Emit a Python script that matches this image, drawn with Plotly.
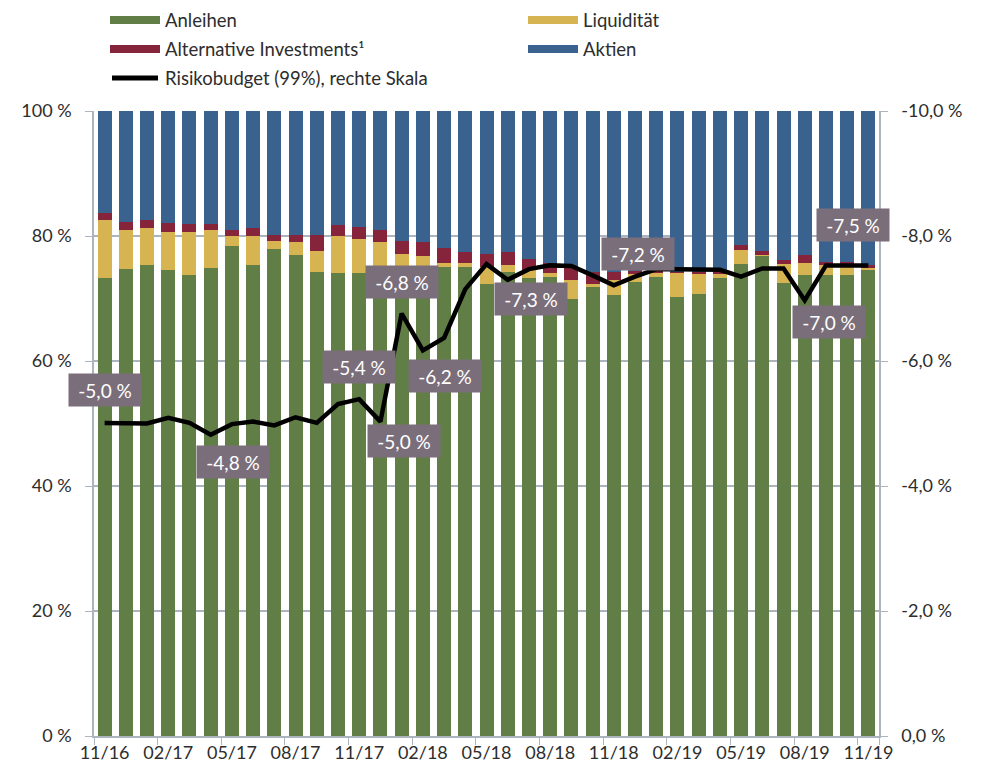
import plotly.graph_objects as go

# ---------------- data ----------------
months = ["11/16", "12/16", "01/17", "02/17", "03/17", "04/17", "05/17", "06/17", "07/17",
          "08/17", "09/17", "10/17", "11/17", "12/17", "01/18", "02/18", "03/18", "04/18",
          "05/18", "06/18", "07/18", "08/18", "09/18", "10/18", "11/18", "12/18", "01/19",
          "02/19", "03/19", "04/19", "05/19", "06/19", "07/19", "08/19", "09/19", "10/19", "11/19"]

anleihen = [73.3, 74.7, 75.3, 74.5, 73.7, 74.9, 78.4, 75.3, 78.0, 76.9, 74.3, 74.1, 74.1,
            74.0, 74.5, 74.5, 75.0, 75.0, 72.3, 74.3, 73.3, 73.5, 70.0, 71.8, 70.6, 72.6,
            73.5, 70.2, 70.8, 73.3, 75.5, 76.9, 72.5, 73.8, 73.7, 73.8, 74.5]
liquiditaet = [9.2, 6.2, 6.0, 6.2, 7.0, 6.0, 1.6, 4.7, 1.2, 2.1, 3.3, 5.9, 5.5,
               5.0, 2.7, 2.3, 0.7, 0.7, 2.8, 1.0, 1.3, 0.6, 3.0, 0.5, 2.3, 1.3,
               0.6, 3.9, 3.2, 0.7, 2.3, 0.1, 3.0, 1.9, 1.7, 1.7, 0.4]
alternative = [1.2, 1.4, 1.2, 1.4, 1.2, 1.0, 1.0, 1.3, 1.0, 1.2, 2.6, 1.7, 1.9,
               2.0, 2.0, 2.2, 2.4, 1.8, 2.0, 2.1, 1.7, 1.6, 2.0, 1.9, 1.3, 0.5,
               0.3, 0.2, 0.3, 0.2, 0.8, 0.6, 0.6, 1.3, 0.5, 0.3, 0.4]
aktien = [16.3, 17.7, 17.5, 17.9, 18.1, 18.1, 19.0, 18.7, 19.8, 19.8, 19.8, 18.3, 18.5,
          19.0, 20.8, 21.0, 21.9, 22.5, 22.9, 22.6, 23.7, 24.3, 25.0, 25.8, 25.8, 25.6,
          25.6, 25.7, 25.7, 25.8, 21.4, 22.4, 23.9, 23.0, 24.1, 24.2, 24.7]
risikobudget = [-5.01, -5.0, -5.0, -5.09, -5.01, -4.82, -4.99, -5.03, -4.97, -5.10, -5.01,
                -5.31, -5.39, -5.03, -6.76, -6.17, -6.37, -7.15, -7.55, -7.30, -7.47, -7.53,
                -7.52, -7.37, -7.21, -7.35, -7.47, -7.47, -7.47, -7.46, -7.35, -7.48, -7.48,
                -6.97, -7.53, -7.53, -7.53]

# value labels: (month index, text)
label_idx = [0, 5, 12, 13, 14, 15, 19, 24, 33, 35]
label_txt = ["-5,0 %", "-4,8 %", "-5,4 %", "-5,0 %", "-6,8 %", "-6,2 %", "-7,3 %", "-7,2 %", "-7,0 %", "-7,5 %"]

left_ticks = [0, 20, 40, 60, 80, 100]
left_ticktext = ["0 %", "20 %", "40 %", "60 %", "80 %", "100 %"]
right_ticks = [0, -2, -4, -6, -8, -10]
right_ticktext = ["0,0 %", "-2,0 %", "-4,0 %", "-6,0 %", "-8,0 %", "-10,0 %"]
x_ticks = months[::3]

# ---------------- style ----------------
C_GREEN = "rgb(98,126,71)"
C_YELLOW = "rgb(214,180,82)"
C_RED = "rgb(134,36,60)"
C_BLUE = "rgb(57,98,142)"
C_LABEL = "rgb(122,110,122)"
C_GRID = "rgb(172,180,190)"
C_TEXT = "rgb(45,45,45)"
FONT = "Lato, 'Open Sans', sans-serif"

OFF = 8  # page body margin
W, H = 985 - 2 * OFF, 773 - 2 * OFF
ML, MT = 94 - OFF, 111 - OFF
MR = W - (879 - OFF)
MB = H - (736 - OFF)
PW, PH = W - ML - MR, H - MT - MB

fig = go.Figure()
for name, vals, col in [("Anleihen", anleihen, C_GREEN),
                        ("Liquidität", liquiditaet, C_YELLOW),
                        ("Alternative Investments¹", alternative, C_RED),
                        ("Aktien", aktien, C_BLUE)]:
    fig.add_trace(go.Bar(x=months, y=vals, name=name, marker=dict(color=col, line=dict(width=0)),
                         showlegend=False))

fig.add_trace(go.Scatter(x=months, y=risikobudget, yaxis="y2", mode="lines",
                         line=dict(color="black", width=4.5), showlegend=False,
                         name="Risikobudget (99%), rechte Skala"))

# label boxes
shifts = {0: (0, 33), 5: (22, -27), 12: (0, 32), 13: (24, -19), 14: (0, 32),
          15: (22, -26), 19: (23, -19), 24: (24, 31), 33: (24, -22), 35: (6, 40)}
for i, t in zip(label_idx, label_txt):
    dx, dy = shifts[i]
    fig.add_annotation(x=months[i], y=risikobudget[i], xref="x", yref="y2", text=t,
                       showarrow=False, xshift=dx, yshift=dy,
                       font=dict(family=FONT, size=19, color="white"),
                       bgcolor=C_LABEL, borderpad=4, width=64, height=24)

# manual legend (screen pixel positions converted to paper coords)
def px(xp):
    return (xp - OFF - ML) / PW

def py(yp):
    return (H - MB - (yp - OFF)) / PH

legend_items = [("Anleihen", C_GREEN, 110, 20, "rect"),
                ("Liquidität", C_YELLOW, 528, 20, "rect"),
                ("Alternative Investments¹", C_RED, 110, 49, "rect"),
                ("Aktien", C_BLUE, 528, 49, "rect"),
                ("Risikobudget (99%), rechte Skala", "black", 110, 78, "line")]
for text, col, x0, yc, kind in legend_items:
    if kind == "rect":
        fig.add_shape(type="rect", xref="paper", yref="paper",
                      x0=px(x0), x1=px(x0 + 50), y0=py(yc + 4), y1=py(yc - 4),
                      fillcolor=col, line=dict(width=0))
    else:
        fig.add_shape(type="line", xref="paper", yref="paper",
                      x0=px(x0 + 2), x1=px(x0 + 48), y0=py(yc), y1=py(yc),
                      line=dict(color=col, width=5))
    fig.add_annotation(x=px(x0 + 54), y=py(yc), xref="paper", yref="paper", text=text,
                       showarrow=False, xanchor="left", yanchor="middle", borderpad=0,
                       font=dict(family=FONT, size=18.5, color=C_TEXT))

fig.update_layout(
    width=W, height=H, barmode="stack", bargap=0.34,
    margin=dict(l=ML, r=MR, t=MT, b=MB, autoexpand=False),
    paper_bgcolor="white", plot_bgcolor="white",
    font=dict(family=FONT, size=18, color=C_TEXT),
    xaxis=dict(type="category", tickmode="array", tickvals=x_ticks, ticktext=x_ticks,
               tickson="boundaries", ticks="outside", ticklen=7, tickcolor=C_GRID,
               tickangle=0, automargin=False,
               showline=True, linecolor=C_GRID, linewidth=1.5, showgrid=False,
               tickfont=dict(size=18, color=C_TEXT), range=[-0.5, 36.5]),
    yaxis=dict(range=[0, 100], tickvals=left_ticks, ticktext=left_ticktext,
               showgrid=True, gridcolor=C_GRID, gridwidth=1.5, zeroline=False,
               showline=True, linecolor=C_GRID, linewidth=1.5, ticks="outside",
               ticklen=7, tickcolor=C_GRID, ticklabelstandoff=10, automargin=False,
               tickfont=dict(size=18, color=C_TEXT)),
    yaxis2=dict(range=[0, -10], overlaying="y", side="right", tickvals=right_ticks,
                ticktext=right_ticktext, showgrid=False, zeroline=False,
                showline=True, linecolor=C_GRID, linewidth=1.5, ticks="outside",
                ticklen=7, tickcolor=C_GRID, ticklabelstandoff=10, automargin=False,
                tickfont=dict(size=18, color=C_TEXT)),
)

fig.write_html("out.html")
